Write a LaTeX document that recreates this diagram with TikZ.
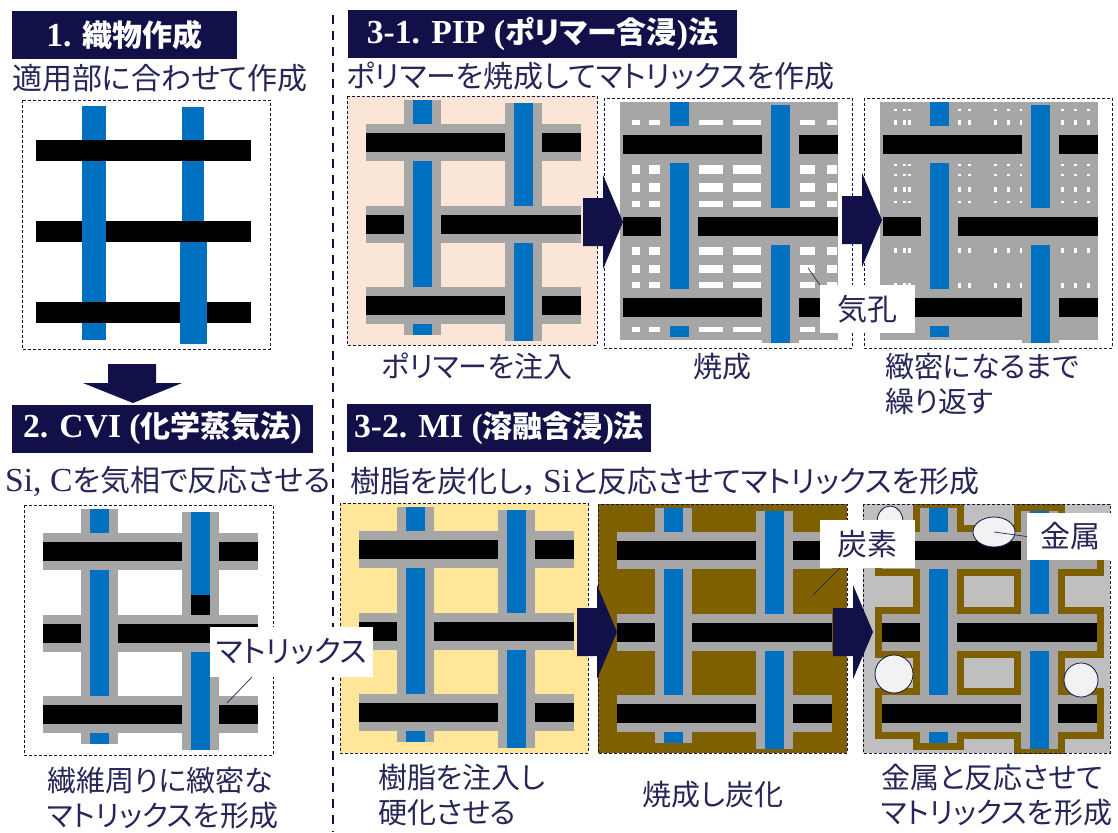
\documentclass[tikz,border=0pt]{standalone}
\usepackage{fontspec}
\setmainfont[Scale=1.12]{Liberation Serif}
\newfontfamily\jp[CharacterWidth=AlternateProportional]{Noto Sans CJK JP}
\usetikzlibrary{calc}

\definecolor{navy}{RGB}{18,16,72}
\definecolor{ink}{RGB}{38,38,88}
\definecolor{fibre}{RGB}{0,112,192}
\definecolor{coat}{RGB}{166,166,166}
\definecolor{peach}{RGB}{251,229,214}
\definecolor{resin}{RGB}{255,230,153}
\definecolor{carbon}{RGB}{127,96,0}
\definecolor{sicbg}{RGB}{191,191,191}
\definecolor{metal}{RGB}{242,242,242}

\tikzset{
  panel/.style={draw=navy, line width=0.8pt, dash pattern=on 3pt off 2pt},
  header/.style={fill=navy, text=white, inner sep=0pt, minimum height=48pt,
    font=\fontsize{30}{36}\selectfont\bfseries},
  txt/.style={text=ink, inner sep=0pt, font=\fontsize{30}{35}\selectfont\jp},
  caption/.style={text=ink, inner sep=0pt, font=\fontsize{29}{35}\selectfont\jp},
  tag/.style={fill=white, text=ink, inner sep=0pt, font=\fontsize{30}{35}\selectfont\jp},
  lead/.style={draw=ink, line width=0.7pt},
  flow/.style={fill=navy},
  pore/.style={fill=white},
  bubble/.style={fill=metal, draw=navy, line width=0.8pt},
}

% plain weave with a coated fibre surface, box of 250 x 250
\newcommand{\coatedweave}{%
  \foreach \y in {28,110,191}{%
    \fill[coat] (19,\y) rectangle (234,\y+37);
    \fill[black] (19,\y+9) rectangle (234,\y+28);
  }
  \fill[coat] (57,4) rectangle (94,239);
  \fill[fibre] (66,4) rectangle (85,239);
  \fill[coat] (158,7) rectangle (195,245);
  \fill[fibre] (167,7) rectangle (186,245);
  % weft passes over the warp here
  \foreach \x/\y in {57/28,158/110,57/191}{%
    \fill[coat] (\x,\y) rectangle (\x+37,\y+37);
    \fill[black] (\x,\y+9) rectangle (\x+37,\y+28);
  }
}

% block arrow pointing right, #1 = tail x, #2 = mid y
\newcommand{\flowarrow}[2]{%
  \path[flow] (#1,#2-24) -- ++(20,0) -- ++(0,-23) -- ++(20,47) -- ++(-20,47)
    -- ++(0,-23) -- ++(-20,0) -- cycle;
}

\begin{document}
\begin{tikzpicture}[x=1pt,y=-1pt]
\useasboundingbox (0,0) rectangle (1118,832);

\draw[navy, line width=2pt, dash pattern=on 9pt off 7pt] (333,15) -- (333,832);

%% 1. weaving
\node[header, minimum width=225pt] (h1) at (124.5,35.5) {1. {\jp 織物作成}};
\node[txt, anchor=west] (s1) at (12,78) {適用部に合わせて作成};
\begin{scope}[shift={(22,100)}]
  \fill[fibre] (60,6) rectangle (84,240);
  \fill[fibre] (160,7) rectangle (182,121);
  \foreach \y in {40,121,202}
    \fill[black] (14,\y) rectangle (229,\y+21);
  \fill[fibre] (60,121) rectangle (84,142);
  \fill[fibre] (158,142) rectangle (185,244);
  \draw[panel] (0,0) rectangle (248,249);
\end{scope}
\path[flow] (108,364) -- (156,364) -- (156,383) -- (182,383) -- (133,403)
  -- (83,383) -- (108,383) -- cycle;

%% 2. CVI
\node[header, minimum width=301pt] (h2) at (162.5,428.5) {2. CVI ({\jp 化学蒸気法})};
\node[txt, anchor=west] (s2) at (5,481) {{\rmfamily Si, C}を気相で反応させる};
\begin{scope}[shift={(24,505)}]
  \coatedweave
  \fill[black] (167,90) rectangle (186,110);
  \draw[panel] (0,0) rectangle (249,250);
\end{scope}
\node[caption, align=left, anchor=west] (c2) at (47,798) {繊維周りに緻密な\\マトリックスを形成};

%% 3-1. PIP
\node[header, minimum width=389pt] (h31) at (542.5,34) {3-1. PIP ({\jp ポリマー含浸}){\jp 法}};
\node[txt, anchor=west] (s31) at (346,76) {ポリマーを焼成してマトリックスを作成};
\begin{scope}[shift={(347,96)}]
  \fill[peach] (0,0) rectangle (250,249);
  \coatedweave
  \draw[panel] (0,0) rectangle (250,249);
\end{scope}
\begin{scope}[shift={(604,98)}]
  \fill[coat] (16,4) rectangle (234,242);
  \foreach \xa/\xb in {28/36,45/56,95/119,129/157,196/211,223/233}
    \foreach \ya/\yb in {22/27,67/76,85/94,103/109,149/157,167/175,184/190,229/234}
      \fill[pore] (\xa,\ya) rectangle (\xb,\yb);
  \coatedweave
  \draw[panel] (0,0) rectangle (248,250);
\end{scope}
\begin{scope}[shift={(864,98)}]
  \fill[coat] (16,4) rectangle (234,242);
  \foreach \x in {31,40,45,95,105,131,144,157,198,211,224}{%
    \foreach \y in {25,91,152,187}
      \fill[pore] (\x-1.5,\y-2.5) rectangle (\x+1.5,\y+2.5);
    \foreach \y in {12,67,77,104}
      \fill[pore] (\x-1.5,\y-0.8) rectangle (\x+1.5,\y+0.8);
  }
  \coatedweave
  \draw[panel] (0,0) rectangle (248,250);
\end{scope}
\flowarrow{583}{222}
\flowarrow{842}{220}
\node[caption] (c31a) at (477,366) {ポリマーを注入};
\node[caption] (c31b) at (722,367) {焼成};
\node[caption, align=left, anchor=west] (c31c) at (885,384) {緻密になるまで\\繰り返す};

%% 3-2. MI
\node[header, minimum width=304pt] (h32) at (499,428) {3-2. MI ({\jp 溶融含浸}){\jp 法}};
\node[txt, anchor=west] (s32) at (350,481) {樹脂を炭化し，\,{\rmfamily Si}と反応させてマトリックスを形成};
\begin{scope}[shift={(340,503)}]
  \fill[resin] (0,0) rectangle (248,250);
  \coatedweave
  \draw[panel] (0,0) rectangle (248,250);
\end{scope}
\begin{scope}[shift={(598,504)}]
  \fill[carbon] (0,0) rectangle (249,249);
  \coatedweave
  \draw[panel] (0,0) rectangle (249,249);
\end{scope}
\begin{scope}[shift={(863,504)}]
  \fill[sicbg] (0,0) rectangle (247,249);
  \begin{scope}
    \clip (0,0) rectangle (247,249);
    % carbon left as a skin round the coated fibres
    \foreach \y in {28,110,191}
      \fill[carbon] (12,\y-7) rectangle (241,\y+44);
    \fill[carbon] (50,-3) rectangle (101,246);
    \fill[carbon] (151,0) rectangle (202,252);
    \foreach \y in {28,110,191}
      \fill[sicbg] (19,\y) rectangle (234,\y+37);
    \fill[sicbg] (57,4) rectangle (94,239);
    \fill[sicbg] (158,7) rectangle (195,245);
  \end{scope}
  \coatedweave
  \draw[panel] (0,0) rectangle (247,249);
\end{scope}
\flowarrow{577}{632}
\flowarrow{833}{632}
\draw[bubble] (890,522) ellipse [x radius=13, y radius=16];
\draw[bubble] (994,532) ellipse [x radius=21, y radius=15];
\draw[bubble] (894,674) circle [radius=19];
\draw[bubble] (1081,680) circle [radius=17];
\node[caption, align=left, anchor=west] (c32a) at (378,795) {樹脂を注入し\\硬化させる};
\node[caption] (c32b) at (713,795) {焼成し炭化};
\node[caption, align=left, anchor=west] (c32c) at (881,795) {金属と反応させて\\マトリックスを形成};

%% callouts
\node[tag, minimum width=95pt, minimum height=48pt] (pore) at (867.5,309) {気孔};
\coordinate (porept) at (808,268);
\draw[lead] (pore.north west) -- (porept);
\node[tag, minimum width=95pt, minimum height=48pt] (tanso) at (867.5,544) {炭素};
\coordinate (carbonpt) at (813,595);
\draw[lead] ([xshift=20pt]tanso.south west) -- (carbonpt);
\coordinate (metalpt) at (994,532);
\node[tag, minimum width=86pt, minimum height=47pt] (kinzoku) at (1070,536.5) {金属};
\draw[lead] (metalpt) -- (kinzoku.west);
\node[tag, minimum width=163pt, minimum height=50pt] (mtx) at (291.5,652) {マトリックス};
\coordinate (mtxpt) at (227,703);
\draw[lead] ([xshift=42pt]mtx.south west) -- (mtxpt);
\end{tikzpicture}
\end{document}
